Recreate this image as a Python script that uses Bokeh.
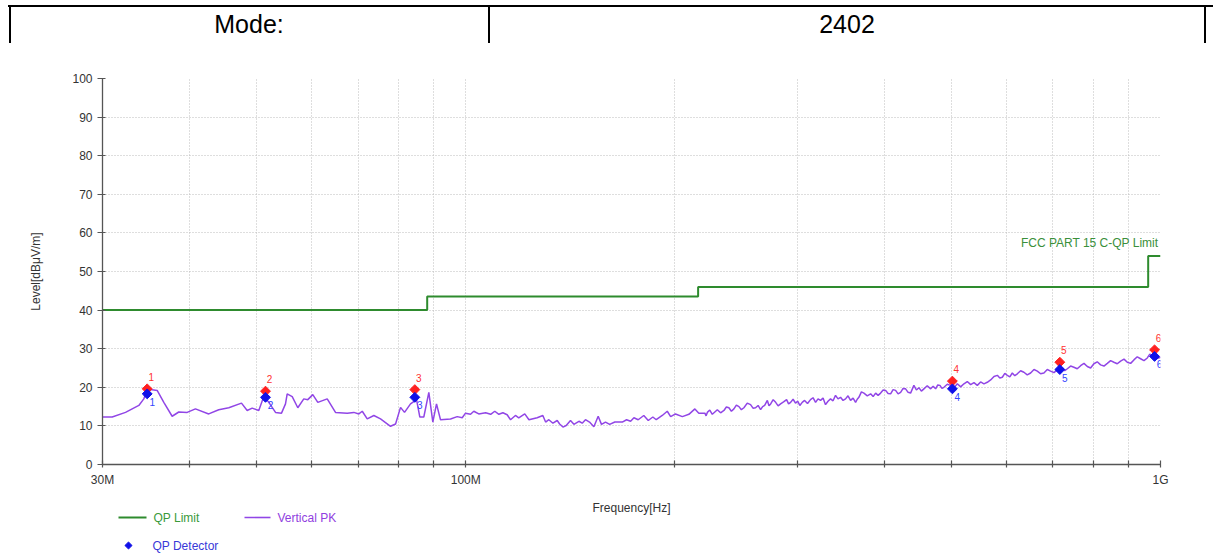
from bokeh.plotting import figure
from bokeh.models import Range1d, FixedTicker, Div
from bokeh.layouts import column
from bokeh.embed import file_html
from bokeh.resources import INLINE
from bokeh.core.properties import value

FONT = "Liberation Sans"

# ---------------- data ----------------
mode_label = "Mode:"
mode_value = "2402"

limit_name = "FCC PART 15 C-QP Limit"
limit_freq_mhz = [30, 88, 216, 960, 1000]
limit_level = [40.0, 43.5, 46.0, 54.0, 54.0]

pk_freq_mhz = [
    30.0, 30.98, 32.38, 33.84, 34.40, 34.79, 35.17, 35.96, 36.76, 37.79, 38.63, 39.72,
    40.82, 42.66, 44.10, 45.59, 47.55, 48.46, 49.27, 50.36, 51.20, 52.06, 53.23, 54.30,
    55.02, 55.33, 56.26, 57.31, 58.46, 59.24, 60.23, 61.24, 63.18, 64.94, 67.51, 69.01,
    70.16, 70.96, 72.14, 73.74, 75.39, 77.93, 79.24, 80.56, 81.63, 83.27, 84.95, 85.88,
    87.02, 88.48, 89.66, 90.76, 91.97, 95.07, 97.21, 98.83, 99.92, 101.6, 102.7, 104.4,
    106.8, 108.6, 110.1, 111.6, 113.1, 114.7, 116.0, 117.9, 119.2, 121.6, 123.3, 126.7,
    129.1, 130.3, 131.7, 133.5, 135.4, 136.5, 138.0, 139.5, 141.5, 143.1, 145.5, 147.1,
    148.7, 150.7, 152.9, 155.1, 156.8, 158.9, 161.1, 163.9, 168.0, 170.4, 172.7, 174.6,
    177.1, 180.4, 183.1, 185.9, 188.0, 191.8, 195.0, 197.2, 200.4, 205.0, 209.5, 213.7,
    216.5,
    220.9, 221.8, 222.7, 224.5, 226.4, 228.3, 230.2, 232.7, 235.3, 237.2, 239.2, 241.2,
    243.2, 245.2, 247.3, 249.3, 251.4, 254.2, 257.0, 259.1, 261.3, 263.5, 265.7, 267.5,
    269.3, 271.7, 273.2, 274.7, 277.0, 279.3, 281.6, 283.9, 286.7, 289.6, 291.5, 293.5,
    295.9, 298.3, 300.4, 302.6, 305.0, 307.4, 310.4, 313.5, 316.1, 318.8, 321.4, 324.1,
    326.8, 329.5, 332.2, 335.0, 337.8, 340.6, 343.4, 346.3, 349.2, 352.1, 355.0, 358.0,
    361.0, 364.0, 366.0, 368.0, 371.1, 374.2, 378.4, 382.6, 385.8, 389.0, 392.2, 395.5,
    398.8, 402.1, 405.4, 408.8, 412.2, 415.6, 419.1, 422.6, 426.1, 429.6, 433.2, 436.8,
    441.6, 445.3, 449.0, 452.7, 456.5, 461.6, 466.8, 470.7, 474.6, 478.0, 481.4, 484.6,
    487.8, 493.3, 498.8, 504.4, 510.0, 515.6, 521.3, 527.1, 533.0, 538.9, 544.9, 550.9,
    557.0, 563.2, 569.5, 575.9, 582.3, 587.1, 592.0, 596.9, 601.9, 606.9, 611.9, 617.0,
    622.2, 629.0, 635.9, 643.0, 650.2, 657.5, 664.8, 672.1, 679.5, 687.1, 694.7, 702.5,
    710.3, 716.2, 722.2, 728.2, 734.3, 742.4, 750.5, 758.9, 767.4, 776.0, 784.6, 793.2,
    801.9, 810.9, 819.9, 829.1, 838.4, 847.6, 856.9, 866.5, 876.1, 886.0, 895.8, 905.7,
    915.6, 925.9, 936.2, 946.7, 957.2, 965.2, 973.2, 986.5, 1000.0,
]
pk_level = [
    12.3, 12.3, 13.5, 15.3, 17.0, 19.2, 19.4, 19.2, 16.1, 12.5, 13.6, 13.5,
    14.4, 13.1, 14.2, 14.7, 15.9, 14.0, 14.6, 14.0, 17.6, 16.1, 13.5, 13.3,
    15.7, 18.3, 17.6, 14.7, 17.0, 16.8, 18.1, 16.1, 17.0, 13.5, 13.3, 13.5,
    13.1, 13.8, 11.8, 12.7, 11.8, 9.9, 10.5, 14.8, 13.5, 15.7, 16.8, 12.3,
    12.3, 18.7, 11.0, 15.7, 11.6, 11.8, 12.4, 12.1, 13.3, 13.0, 13.8, 13.1,
    13.4, 13.0, 13.8, 13.0, 13.4, 12.9, 11.6, 12.7, 12.1, 13.1, 11.6, 12.1,
    12.7, 11.0, 11.6, 10.7, 11.4, 10.5, 9.7, 10.1, 11.4, 10.4, 11.2, 10.7,
    11.6, 11.0, 9.8, 12.5, 10.4, 11.0, 10.4, 11.0, 11.0, 11.6, 11.2, 12.1,
    11.6, 12.7, 11.4, 12.3, 11.6, 12.7, 13.8, 12.4, 13.1, 12.4, 13.0, 14.4,
    13.3,
    13.3, 12.6, 13.5, 14.1, 13.0, 13.6, 14.2, 13.4, 14.0, 14.9, 14.7, 13.8,
    14.4, 15.4, 15.0, 14.2, 14.7, 15.9, 15.5, 14.6, 14.7, 15.3, 14.2, 15.0,
    15.3, 16.6, 15.2, 15.7, 16.8, 16.1, 15.2, 15.7, 16.2, 16.8, 15.7, 16.1,
    16.9, 15.9, 16.4, 15.3, 16.1, 16.6, 15.8, 16.8, 17.3, 16.1, 17.0, 16.6,
    17.2, 15.5, 16.4, 17.0, 16.5, 17.9, 17.0, 17.4, 16.6, 17.0, 17.8, 16.6,
    17.2, 16.1, 16.9, 17.4, 18.8, 18.5, 17.8, 18.3, 17.6, 18.5, 17.9, 18.5,
    19.3, 19.2, 18.4, 18.3, 19.4, 19.2, 18.3, 18.7, 19.7, 19.6, 18.7, 18.5,
    20.5, 19.3, 19.9, 19.0, 19.6, 20.4, 19.6, 20.3, 19.6, 20.6, 20.5, 19.7,
    20.0, 20.8, 20.5, 19.9, 20.9, 20.1, 20.9, 21.5, 20.7, 21.2, 20.5, 21.4,
    20.9, 21.3, 21.9, 22.8, 23.1, 22.4, 22.6, 23.6, 23.1, 22.7, 23.7, 23.0,
    23.5, 24.3, 23.9, 23.2, 23.7, 24.6, 24.2, 23.5, 23.7, 24.6, 24.2, 23.8,
    24.5, 24.0, 25.1, 24.3, 24.8, 25.5, 25.2, 24.8, 25.6, 26.2, 25.4, 25.0,
    26.1, 26.6, 25.8, 25.5, 26.2, 26.9, 26.5, 26.1, 26.8, 27.3, 26.5, 26.2,
    27.1, 27.9, 27.4, 26.9, 27.6, 28.6, 28.2, 27.4, 27.8,
]

marker_ids = ["1", "2", "3", "4", "5", "6"]
marker_freq_mhz = [34.79, 51.49, 84.47, 501.7, 716.3, 980.5]
marker_pk_level = [19.6, 19.0, 19.4, 21.6, 26.5, 29.7]
marker_qp_level = [18.3, 17.4, 17.4, 19.6, 24.6, 28.0]

x_major_ticks = [30, 40, 50, 60, 70, 80, 90, 100, 200, 300, 400, 500, 600, 700, 800, 900, 1000]
x_tick_text = {30: "30M", 100: "100M", 1000: "1G"}
y_ticks = [0, 10, 20, 30, 40, 50, 60, 70, 80, 90, 100]

x_title = "Frequency[Hz]"
y_title = "Level[dBμV/m]"
legend_limit = "QP Limit"
legend_pk = "Vertical PK"
legend_qp = "QP Detector"

# ---------------- styles ----------------
GREEN = "#2E8B2E"
PURPLE = "#9146E6"
RED = "#FF2020"
BLUE = "#1010E8"
W = 1212

# ---------------- header table (HTML) ----------------
header_html = f"""
<div style="position:relative;width:{W}px;height:44px;font-family:'Liberation Sans',Arial,sans-serif;color:#000;">
  <div style="position:absolute;left:8px;top:5px;width:1205px;height:2px;background:#000;"></div>
  <div style="position:absolute;left:9px;top:5px;width:2px;height:38px;background:#000;"></div>
  <div style="position:absolute;left:488px;top:5px;width:2px;height:38px;background:#000;"></div>
  <div style="position:absolute;left:1204px;top:5px;width:2px;height:38px;background:#000;"></div>
  <div style="position:absolute;left:10px;width:478px;top:10px;text-align:center;font-size:25px;line-height:28px;">{mode_label}</div>
  <div style="position:absolute;left:490px;width:714px;top:10px;text-align:center;font-size:25px;line-height:28px;">{mode_value}</div>
</div>
"""
header = Div(text=header_html, width=W, height=44, margin=(0, 0, 0, 0))

# ---------------- main chart ----------------
p = figure(width=W, height=446, x_axis_type="log",
           x_range=Range1d(30, 1000), y_range=Range1d(0, 100),
           toolbar_location=None, output_backend="svg",
           min_border_left=102, min_border_right=52, min_border_top=34, min_border_bottom=26)
p.outline_line_color = None
p.background_fill_color = "white"

p.xaxis.ticker = FixedTicker(ticks=x_major_ticks)
p.xaxis.major_label_overrides = {t: x_tick_text.get(t, "") for t in x_major_ticks}
p.yaxis.ticker = FixedTicker(ticks=y_ticks)
for ax in (p.xaxis, p.yaxis):
    ax.minor_tick_line_color = None
    ax.axis_line_color = "#555555"
    ax.axis_line_width = 1.3
    ax.major_tick_line_color = "#555555"
    ax.major_tick_line_width = 1.2
    ax.major_label_text_font = FONT
    ax.major_label_text_font_size = "12px"
    ax.major_label_text_color = "#333333"
    ax.axis_label_text_font = FONT
    ax.axis_label_text_font_size = "12px"
    ax.axis_label_text_font_style = "normal"
    ax.axis_label_text_color = "#333333"
p.xaxis.major_tick_in = 4
p.xaxis.major_tick_out = 3
p.xaxis.major_label_standoff = 5
p.yaxis.major_tick_in = 3
p.yaxis.major_tick_out = 5
p.yaxis.major_label_standoff = 5
p.yaxis.axis_label = y_title
p.yaxis.axis_label_standoff = 26

p.grid.grid_line_color = "#bdbdbd"
p.grid.grid_line_dash = "1 2"
p.grid.grid_line_width = 1

p.step(x=limit_freq_mhz, y=limit_level, mode="after", line_color=GREEN, line_width=2)
p.line(x=pk_freq_mhz, y=pk_level, line_color=PURPLE, line_width=1.5)
p.scatter(x=marker_freq_mhz, y=marker_pk_level, marker="square", angle=0.785,
          size=7, fill_color=RED, line_color=RED)
p.scatter(x=marker_freq_mhz, y=marker_qp_level, marker="square", angle=0.785,
          size=7, fill_color=BLUE, line_color=BLUE)

p.text(x=marker_freq_mhz, y=marker_pk_level, text=marker_ids, x_offset=4, y_offset=-12,
       text_align="center", text_baseline="middle", text_font=value(FONT),
       text_font_size="10px", text_color="#FF3030")
p.text(x=marker_freq_mhz, y=marker_qp_level, text=marker_ids, x_offset=5, y_offset=8,
       text_align="center", text_baseline="middle", text_font=value(FONT),
       text_font_size="10px", text_color="#3344FF")

p.text(x=[1000], y=[54], text=[limit_name], x_offset=-2, y_offset=-13,
       text_align="right", text_baseline="middle", text_font=value(FONT),
       text_font_size="12px", text_color="#3A8F3A")

# ---------------- axis title + legend strip ----------------
leg = figure(width=W, height=65, x_range=Range1d(102, 1160), y_range=Range1d(555, 490),
             toolbar_location=None, output_backend="svg",
             min_border_left=102, min_border_right=52, min_border_top=0, min_border_bottom=0,
             x_axis_location=None, y_axis_location=None)
leg.grid.visible = False
leg.outline_line_color = None

leg.text(x=[631], y=[507], text=[x_title], text_align="center", text_baseline="middle",
         text_font=value(FONT), text_font_size="12px", text_color="#333333")
leg.segment(x0=[118], y0=[517], x1=[146], y1=[517], line_color=GREEN, line_width=2)
leg.text(x=[153], y=[517], text=[legend_limit], text_align="left", text_baseline="middle",
         text_font=value(FONT), text_font_size="12px", text_color="#3A9A3A")
leg.segment(x0=[244], y0=[517], x1=[270], y1=[517], line_color=PURPLE, line_width=1.6)
leg.text(x=[277], y=[517], text=[legend_pk], text_align="left", text_baseline="middle",
         text_font=value(FONT), text_font_size="12px", text_color="#9040E0")
leg.scatter(x=[128], y=[545], marker="square", angle=0.785, size=5,
            fill_color=BLUE, line_color=BLUE)
leg.text(x=[152], y=[545], text=[legend_qp], text_align="left", text_baseline="middle",
         text_font=value(FONT), text_font_size="12px", text_color="#3838D8")

layout = column(header, p, leg, spacing=0)
open("out.html", "w").write(file_html(layout, INLINE))
